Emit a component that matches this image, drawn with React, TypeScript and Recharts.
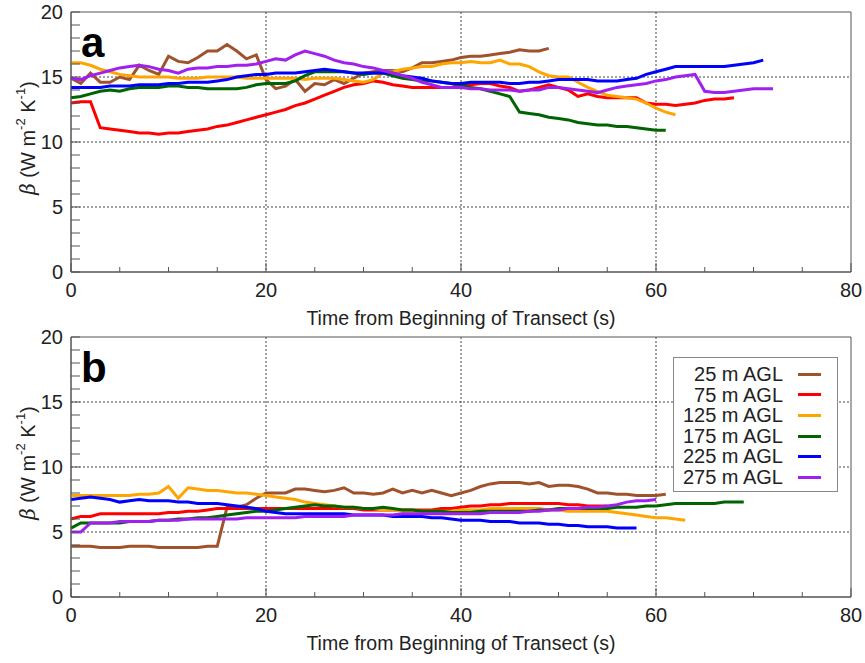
import { LineChart, Line, XAxis, YAxis, CartesianGrid, ReferenceArea, Legend } from 'recharts'

// heights above ground and their line colours
const levels = ['25 m AGL', '75 m AGL', '125 m AGL', '175 m AGL', '225 m AGL', '275 m AGL']
const colors = ['#A0522D', '#FF0000', '#FFA500', '#006400', '#0000FF', '#A020F0']

const xTicks = [0, 5, 10, 15, 20, 25, 30, 35, 40, 45, 50, 55, 60, 65, 70, 75, 80]
const yTicks = [0, 1, 2, 3, 4, 5, 6, 7, 8, 9, 10, 11, 12, 13, 14, 15, 16, 17, 18, 19, 20]
const gridX = [20, 40, 60]
const gridY = [5, 10, 15]

// panel a, beta sampled every second from the start of the transect
const a25 = [
  14.9, 14.5, 15.3, 14.6, 14.6, 15.0, 14.8, 15.9, 15.5, 15.2,
  16.6, 16.2, 16.1, 16.5, 17.0, 17.0, 17.5, 17.0, 16.4, 16.7,
  14.8, 14.1, 14.3, 14.8, 13.9, 14.5, 14.4, 14.8, 14.5, 14.9,
  15.3, 15.4, 15.5, 15.5, 15.4, 15.7, 16.1, 16.1, 16.2, 16.3,
  16.5, 16.6, 16.6, 16.7, 16.8, 16.9, 17.1, 17.0, 17.0, 17.2,
]
const a75 = [
  13.0, 13.1, 13.1, 11.1, 11.0, 10.9, 10.8, 10.7, 10.7, 10.6,
  10.7, 10.7, 10.8, 10.9, 11.0, 11.2, 11.3, 11.5, 11.7, 11.9,
  12.1, 12.3, 12.5, 12.8, 13.0, 13.3, 13.6, 13.9, 14.2, 14.4,
  14.5, 14.7, 14.6, 14.4, 14.3, 14.2, 14.2, 14.2, 14.2, 14.2,
  14.4, 14.4, 14.5, 14.5, 14.3, 14.2, 13.9, 14.0, 14.2, 14.4,
  14.2, 14.0, 13.5, 13.7, 13.5, 13.4, 13.4, 13.4, 13.4, 13.0,
  12.9, 12.9, 12.8, 12.9, 13.0, 13.2, 13.3, 13.3, 13.4,
]
const a125 = [
  16.1, 16.1, 15.9, 15.6, 15.4, 15.2, 15.1, 15.0, 15.0, 15.0,
  15.0, 14.9, 14.9, 14.9, 15.0, 15.0, 15.0, 15.0, 14.9, 14.9,
  14.9, 14.9, 14.9, 14.9, 14.8, 14.9, 14.9, 14.9, 14.8, 14.7,
  14.6, 14.8, 15.3, 15.4, 15.6, 15.7, 15.8, 15.8, 16.0, 16.1,
  16.1, 16.2, 16.1, 16.1, 16.3, 16.0, 16.0, 15.8, 15.4, 15.1,
  15.0, 15.0, 14.6, 14.2, 13.9, 13.6, 13.5, 13.4, 13.3, 13.0,
  12.6, 12.3, 12.1,
]
const a175 = [
  13.4, 13.5, 13.7, 13.9, 14.0, 13.9, 14.1, 14.2, 14.2, 14.2,
  14.3, 14.3, 14.2, 14.2, 14.1, 14.1, 14.1, 14.1, 14.2, 14.4,
  14.5, 14.5, 14.5, 14.7, 15.1, 15.4, 15.4, 15.4, 15.4, 15.3,
  15.2, 15.3, 15.3, 15.1, 14.9, 14.8, 14.7, 14.7, 14.6, 14.5,
  14.4, 14.2, 14.1, 13.9, 13.7, 13.5, 12.3, 12.2, 12.1, 11.9,
  11.8, 11.7, 11.5, 11.4, 11.3, 11.3, 11.2, 11.2, 11.1, 11.0,
  10.9, 10.9,
]
const a225 = [
  14.2, 14.2, 14.2, 14.2, 14.3, 14.3, 14.3, 14.4, 14.4, 14.4,
  14.5, 14.5, 14.6, 14.6, 14.6, 14.7, 14.8, 15.0, 15.1, 15.2,
  15.2, 15.3, 15.3, 15.3, 15.4, 15.5, 15.6, 15.5, 15.4, 15.3,
  15.3, 15.3, 15.3, 15.3, 15.1, 15.0, 14.9, 14.7, 14.6, 14.5,
  14.5, 14.6, 14.6, 14.6, 14.6, 14.5, 14.5, 14.6, 14.6, 14.7,
  14.8, 14.8, 14.8, 14.8, 14.7, 14.7, 14.7, 14.8, 14.9, 15.2,
  15.4, 15.6, 15.8, 15.8, 15.8, 15.8, 15.8, 15.8, 15.9, 16.0,
  16.1, 16.3,
]
const a275 = [
  14.9, 14.8, 15.1, 15.3, 15.5, 15.7, 15.8, 15.9, 15.8, 15.6,
  15.5, 15.3, 15.6, 15.7, 15.7, 15.8, 15.8, 15.9, 15.9, 16.0,
  16.2, 16.4, 16.3, 16.7, 17.0, 16.8, 16.6, 16.3, 16.1, 16.0,
  15.8, 15.7, 15.5, 15.3, 15.1, 14.9, 14.6, 14.4, 14.2, 14.2,
  14.2, 14.1, 14.1, 14.0, 14.0, 14.0, 13.9, 14.0, 14.0, 14.2,
  14.2, 14.1, 14.0, 13.9, 13.8, 14.0, 14.2, 14.3, 14.4, 14.5,
  14.7, 14.8, 15.0, 15.1, 15.2, 13.9, 13.8, 13.8, 13.9, 14.0,
  14.1, 14.1, 14.1,
]

// panel b
const b25 = [
  3.9, 3.9, 3.9, 3.8, 3.8, 3.8, 3.9, 3.9, 3.9, 3.8,
  3.8, 3.8, 3.8, 3.8, 3.9, 3.9, 6.9, 6.9, 7.1, 7.6,
  8.0, 8.0, 8.0, 8.3, 8.3, 8.2, 8.1, 8.2, 8.4, 8.0,
  8.0, 7.9, 8.0, 8.3, 8.0, 8.2, 8.0, 8.2, 8.0, 7.8,
  8.0, 8.2, 8.5, 8.7, 8.8, 8.8, 8.8, 8.7, 8.8, 8.5,
  8.6, 8.6, 8.5, 8.3, 8.0, 8.0, 7.9, 7.9, 7.8, 7.8,
  7.8, 7.9,
]
const b75 = [
  6.0, 6.2, 6.2, 6.4, 6.4, 6.4, 6.4, 6.4, 6.4, 6.4,
  6.5, 6.5, 6.6, 6.6, 6.7, 6.8, 6.8, 6.8, 6.8, 6.8,
  6.8, 6.8, 6.8, 6.8, 6.8, 6.8, 6.8, 6.8, 6.8, 6.8,
  6.7, 6.7, 6.7, 6.7, 6.7, 6.7, 6.7, 6.7, 6.8, 6.8,
  6.9, 7.0, 7.0, 7.1, 7.1, 7.2, 7.2, 7.2, 7.2, 7.2,
  7.2, 7.1, 7.1, 7.0, 7.0, 7.0,
]
const b125 = [
  7.8, 7.8, 7.8, 7.8, 7.8, 7.8, 7.8, 7.9, 7.9, 8.0,
  8.5, 7.6, 8.4, 8.3, 8.2, 8.2, 8.1, 8.0, 8.0, 7.9,
  7.8, 7.7, 7.6, 7.5, 7.3, 7.2, 7.1, 7.0, 6.9, 6.9,
  6.8, 6.8, 6.7, 6.7, 6.6, 6.6, 6.6, 6.6, 6.6, 6.6,
  6.7, 6.7, 6.7, 6.8, 6.8, 6.8, 6.8, 6.8, 6.8, 6.7,
  6.7, 6.6, 6.6, 6.6, 6.6, 6.6, 6.5, 6.4, 6.3, 6.2,
  6.1, 6.1, 6.0, 5.9,
]
const b175 = [
  5.3, 5.7, 5.7, 5.7, 5.7, 5.7, 5.8, 5.8, 5.8, 5.9,
  5.9, 6.0, 6.0, 6.1, 6.1, 6.2, 6.3, 6.4, 6.5, 6.6,
  6.6, 6.7, 6.8, 6.9, 7.0, 7.1, 7.0, 7.0, 6.9, 6.9,
  6.8, 6.8, 6.9, 6.8, 6.7, 6.7, 6.6, 6.6, 6.6, 6.5,
  6.5, 6.5, 6.6, 6.6, 6.6, 6.6, 6.6, 6.6, 6.7, 6.7,
  6.8, 6.8, 6.8, 6.8, 6.8, 6.8, 6.9, 6.9, 6.9, 7.0,
  7.0, 7.1, 7.2, 7.2, 7.2, 7.2, 7.2, 7.3, 7.3, 7.3,
]
const b225 = [
  7.5, 7.6, 7.7, 7.6, 7.5, 7.3, 7.4, 7.5, 7.4, 7.4,
  7.4, 7.3, 7.3, 7.2, 7.2, 7.2, 7.1, 7.0, 6.9, 6.8,
  6.6, 6.5, 6.4, 6.4, 6.4, 6.4, 6.4, 6.4, 6.4, 6.3,
  6.3, 6.3, 6.3, 6.2, 6.2, 6.2, 6.2, 6.1, 6.1, 6.0,
  5.9, 5.9, 5.9, 5.8, 5.8, 5.8, 5.7, 5.7, 5.7, 5.6,
  5.6, 5.5, 5.5, 5.4, 5.4, 5.4, 5.3, 5.3, 5.3,
]
const b275 = [
  5.0, 5.0, 5.7, 5.7, 5.7, 5.8, 5.8, 5.8, 5.8, 5.9,
  5.9, 5.9, 6.0, 6.0, 6.0, 6.0, 6.0, 6.0, 6.1, 6.1,
  6.1, 6.1, 6.1, 6.1, 6.2, 6.2, 6.2, 6.2, 6.2, 6.3,
  6.3, 6.3, 6.3, 6.3, 6.4, 6.4, 6.4, 6.4, 6.4, 6.4,
  6.4, 6.4, 6.4, 6.5, 6.5, 6.5, 6.5, 6.6, 6.6, 6.7,
  6.7, 6.8, 6.8, 6.9, 6.9, 7.0, 7.1, 7.3, 7.4, 7.4,
  7.5,
]

const seriesA = [a25, a75, a125, a175, a225, a275]
const seriesB = [b25, b75, b125, b175, b225, b275]

const AXIS = '#555'
const TEXT = '#222'
const FONT = '"Liberation Sans", Arial, sans-serif'

// one sample per second
const toPoints = (vals: number[]) => vals.map((v, i) => ({ t: i, v }))

const YTick = (props: any) => {
  const { x, y, payload } = props
  const major = payload.value % 5 === 0
  return (
    <g>
      <line x1={x} x2={x + 9} y1={y} y2={y} stroke={AXIS} />
      {major && (
        <text x={x - 8} y={y + 7} textAnchor="end" fontSize={20} fill={TEXT}>
          {payload.value}
        </text>
      )}
    </g>
  )
}

const XTick = (props: any) => {
  const { x, y, payload } = props
  const major = payload.value % 20 === 0
  return (
    <g>
      <line x1={x} x2={x} y1={y} y2={y - (major ? 9 : 5)} stroke={AXIS} />
      {major && (
        <text x={x} y={y + 25} textAnchor="middle" fontSize={20} fill={TEXT}>
          {payload.value}
        </text>
      )}
    </g>
  )
}

const YLabel = (props: any) => {
  const vb = props.viewBox || { x: 21, y: 12, width: 50, height: 260 }
  const cx = vb.x + 7
  const cy = vb.y + vb.height / 2 - 4
  return (
    <text
      x={cx}
      y={cy}
      transform={`rotate(-90, ${cx}, ${cy})`}
      textAnchor="middle"
      dominantBaseline="central"
      fontSize={20}
      fill={TEXT}
    >
      <tspan fontStyle="italic" fontFamily='"DejaVu Serif", serif'>β</tspan>
      <tspan> (W m</tspan>
      <tspan fontSize={13} baselineShift="super">-2</tspan>
      <tspan> K</tspan>
      <tspan fontSize={13} baselineShift="super">-1</tspan>
      <tspan>)</tspan>
    </text>
  )
}

const XLabel = (props: any) => {
  const vb = props.viewBox || { x: 71, y: 272, width: 780, height: 56 }
  return (
    <text x={vb.x + vb.width / 2} y={vb.y + 53} textAnchor="middle" fontSize={19.5} fill={TEXT}>
      Time from Beginning of Transect (s)
    </text>
  )
}

// drawn in the order of the heights, text right aligned, sample line after it
const renderLegend = () => (
  <div
    style={{
      border: '1px solid #888',
      background: '#fff',
      width: 163,
      height: 127,
      boxSizing: 'content-box',
      paddingTop: 6,
      fontFamily: FONT,
      fontSize: 20,
      lineHeight: '20.6px',
      color: TEXT,
    }}
  >
    {levels.map((l, i) => (
      <div key={l} style={{ display: 'flex', alignItems: 'center', height: 20.6 }}>
        <span style={{ width: 109, textAlign: 'right', whiteSpace: 'nowrap' }}>{l}</span>
        <span style={{ width: 23, height: 3, background: colors[i], marginLeft: 15 }} />
      </div>
    ))}
  </div>
)

function Panel({ series, letter, top, height, margin, legend }: any) {
  return (
    <div style={{ position: 'absolute', left: 0, top, width: 865, height }}>
      <LineChart width={865} height={height} margin={margin}>
        <CartesianGrid
          horizontal
          vertical
          horizontalValues={gridY}
          verticalValues={gridX}
          stroke="#444"
          strokeDasharray="2 2"
        />
        <XAxis
          type="number"
          dataKey="t"
          domain={[0, 80]}
          ticks={xTicks}
          interval={0}
          height={56}
          tickSize={0}
          tickMargin={0}
          tickLine={false}
          axisLine={{ stroke: AXIS }}
          tick={<XTick />}
          label={<XLabel />}
          allowDuplicatedCategory={false}
        />
        <YAxis
          type="number"
          dataKey="v"
          domain={[0, 20]}
          ticks={yTicks}
          interval={0}
          width={50}
          tickSize={0}
          tickMargin={0}
          tickLine={false}
          axisLine={{ stroke: AXIS }}
          tick={<YTick />}
          label={<YLabel />}
        />
        <ReferenceArea x1={0} x2={80} y1={0} y2={20} fill="none" fillOpacity={0} stroke={AXIS} strokeOpacity={1} />
        {series.map((vals: number[], i: number) => (
          <Line
            key={levels[i]}
            name={levels[i]}
            data={toPoints(vals)}
            dataKey="v"
            type="linear"
            stroke={colors[i]}
            strokeWidth={3}
            dot={false}
            activeDot={false}
            isAnimationActive={false}
          />
        ))}
        {legend && (
          <Legend
            layout="horizontal"
            verticalAlign="middle"
            align="center"
            content={renderLegend}
            wrapperStyle={{ position: 'absolute', left: 673, top: 357 - top, width: 'auto' }}
          />
        )}
      </LineChart>
      <div
        style={{
          position: 'absolute',
          left: 81,
          top: margin.top + 10,
          fontFamily: FONT,
          fontWeight: 'bold',
          fontSize: 42,
          lineHeight: '42px',
          color: '#000',
        }}
      >
        {letter}
      </div>
    </div>
  )
}

export default function App() {
  return (
    <div
      style={{
        position: 'absolute',
        left: 0,
        top: 0,
        width: 865,
        height: 663,
        background: '#fff',
        fontFamily: FONT,
      }}
    >
      <Panel series={seriesA} letter="a" top={0} height={332} margin={{ top: 12, right: 14, bottom: 4, left: 21 }} />
      <Panel
        series={seriesB}
        letter="b"
        top={320}
        height={343}
        margin={{ top: 17, right: 14, bottom: 10, left: 21 }}
        legend
      />
    </div>
  )
}
